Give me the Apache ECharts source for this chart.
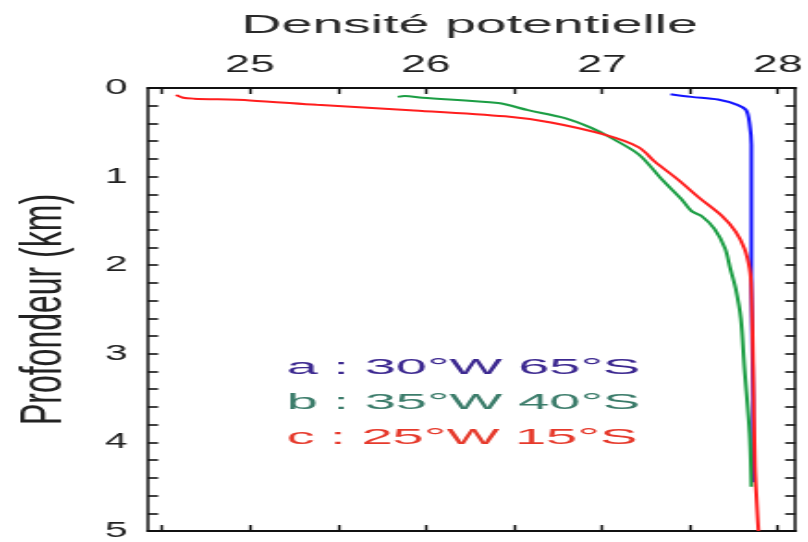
<!DOCTYPE html>
<html>
<head>
<meta charset="utf-8">
<script src="https://cdn.jsdelivr.net/npm/echarts@6/dist/echarts.min.js"></script>
<style>
  html, body { margin: 0; padding: 0; background: #fff; overflow: hidden; }
  #wrap { width: 808px; height: 542px; overflow: hidden; }
  #main { width: 437px; height: 542px; transform: scaleX(1.849); transform-origin: 0 0; }
</style>
</head>
<body>
<div id="wrap"><div id="main"></div></div>
<script>
// ---- data (potential density vs depth in km) ----
const densityA = [27.39, 27.51, 27.66, 27.77, 27.82, 27.84, 27.85, 27.85, 27.85, 27.86, 27.86];
const depthA   = [0.07, 0.10, 0.13, 0.19, 0.25, 0.41, 0.64, 1.36, 2.26, 3.52, 4.45];

const densityB = [25.84, 25.88, 25.98, 26.41, 26.58, 26.79, 26.94, 27.05, 27.21, 27.34, 27.45, 27.51, 27.57, 27.64, 27.70, 27.73, 27.76, 27.79, 27.81, 27.84, 27.85];
const depthB   = [0.10, 0.09, 0.11, 0.17, 0.25, 0.34, 0.45, 0.56, 0.75, 1.03, 1.25, 1.39, 1.45, 1.59, 1.81, 2.04, 2.26, 2.60, 3.15, 3.90, 4.50];

const densityC = [24.58, 24.62, 24.68, 25.00, 25.38, 25.91, 26.45, 26.71, 27.02, 27.21, 27.30, 27.43, 27.56, 27.68, 27.76, 27.81, 27.84, 27.85, 27.86, 27.87, 27.89];
const depthC   = [0.08, 0.11, 0.12, 0.14, 0.19, 0.25, 0.32, 0.39, 0.53, 0.67, 0.83, 1.03, 1.25, 1.44, 1.62, 1.81, 2.04, 2.26, 3.15, 4.27, 5.00];

const xTickValues  = [24.5, 25, 25.5, 26, 26.5, 27, 27.5, 28];
const xLabelValues = [25, 26, 27, 28];
const yTickValues  = [0, 0.2, 0.4, 0.6, 0.8, 1, 1.2, 1.4, 1.6, 1.8, 2, 2.2, 2.4, 2.6, 2.8, 3, 3.2, 3.4, 3.6, 3.8, 4, 4.2, 4.4, 4.6, 4.8, 5];
const yLabelValues = [0, 1, 2, 3, 4, 5];

const seriesNames  = ['a', 'b', 'c'];
const legendLabels = ['a : 30°W 65°S', 'b : 35°W 40°S', 'c : 25°W 15°S'];
const titleText = 'Densité potentielle';
const yTitleText = 'Profondeur (km)';

// ---- styles ----
const lineColors = ['#1414ff', '#1c9e44', '#ff1e1e'];
const textColors = ['#3c2890', '#3b7c6a', '#e6392b'];
const FONT = '"Liberation Sans", Arial, sans-serif';

function zip(xs, ys) { return xs.map((x, i) => [x, ys[i]]); }

const chart = echarts.init(document.getElementById('main'), null, { renderer: 'canvas' });

const xCommon = {
  type: 'value', min: 24.42, max: 28.1,
  splitLine: { show: false },
  axisLine: { show: true, onZero: false, lineStyle: { color: '#111', width: 2 } },
  axisTick: { show: true, inside: true, length: 6, customValues: xTickValues, lineStyle: { color: '#111', width: 1.4 } }
};
const yCommon = {
  type: 'value', min: 0, max: 5, inverse: true,
  splitLine: { show: false },
  axisLine: { show: true, onZero: false, lineStyle: { color: '#111', width: 1.5 } },
  axisTick: { show: true, inside: true, length: 5.5, customValues: yTickValues, lineStyle: { color: '#111', width: 1.6 } }
};

const option = {
  animation: false,
  backgroundColor: '#fff',
  grid: { left: 80, right: 6, top: 88, bottom: 7, containLabel: false },
  xAxis: [
    Object.assign({}, xCommon, {
      position: 'top',
      axisLabel: { show: true, customValues: xLabelValues, fontSize: 24, color: '#222', margin: 11, fontFamily: FONT }
    }),
    Object.assign({}, xCommon, { position: 'bottom', axisLabel: { show: false } })
  ],
  yAxis: [
    Object.assign({}, yCommon, {
      position: 'left',
      axisLabel: { show: true, customValues: yLabelValues, fontSize: 22, color: '#222', margin: 11, fontFamily: FONT },
      name: yTitleText, nameLocation: 'middle', nameGap: 40, nameRotate: 90,
      nameTextStyle: { fontSize: 32, color: '#222', fontFamily: FONT }
    }),
    Object.assign({}, yCommon, { position: 'right', axisLabel: { show: false } })
  ],
  graphic: [
    { type: 'text', x: 254, y: 26, scaleX: 1.2,
      style: { text: titleText, font: '25px ' + FONT, fill: '#2a2a2a', textAlign: 'center', textVerticalAlign: 'middle' } }
  ].concat(legendLabels.map((t, i) => ({
    type: 'text', x: 155, y: 368 + i * 35, scaleX: 1.38,
    style: { text: t, font: '22px ' + FONT, fill: textColors[i], textAlign: 'left', textVerticalAlign: 'middle' }
  }))),
  series: [
    { name: seriesNames[0], type: 'line', data: zip(densityA, depthA) },
    { name: seriesNames[1], type: 'line', data: zip(densityB, depthB) },
    { name: seriesNames[2], type: 'line', data: zip(densityC, depthC) }
  ].map((s, i) => Object.assign(s, {
    xAxisIndex: 0, yAxisIndex: 0, showSymbol: false, symbol: 'none', smooth: 0.3,
    lineStyle: { color: lineColors[i], width: 2 }, z: 2 + i
  }))
};
chart.setOption(option);
</script>
</body>
</html>
